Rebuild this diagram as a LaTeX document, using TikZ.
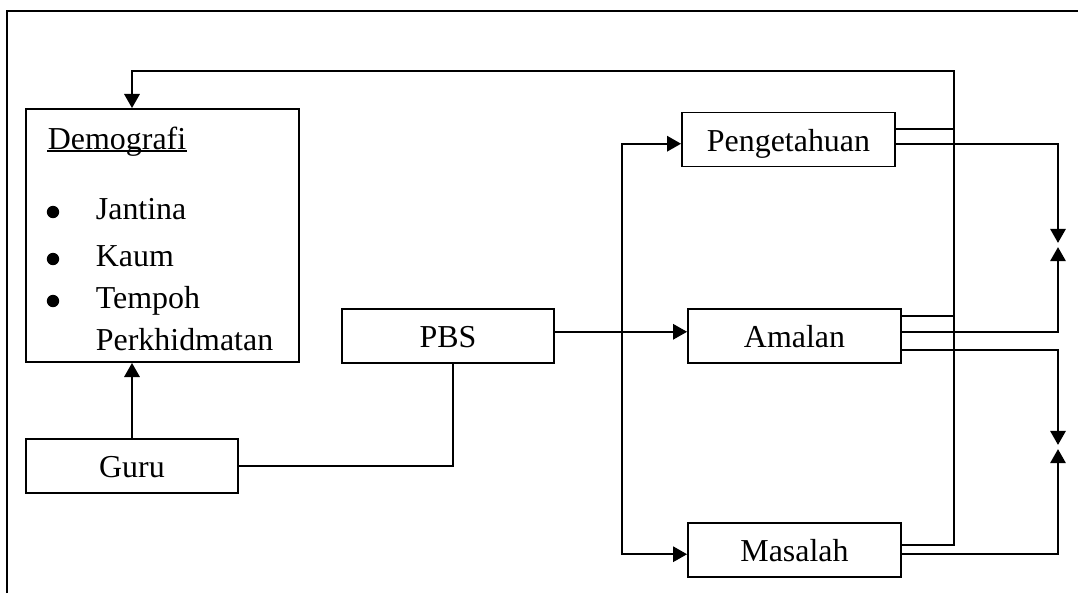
\documentclass[tikz,border=0pt]{standalone}
\usepackage{fontspec}
\setmainfont{Liberation Serif}
\usetikzlibrary{arrows.meta}

\begin{document}
\begin{tikzpicture}[x=0.025cm,y=-0.025cm,line width=1.3pt,
  box/.style={draw,rectangle,minimum width=5.3cm,minimum height=1.35cm,inner sep=0pt,
    text height=0.95cm,text depth=0.375cm,font=\fontsize{22.7}{27}\selectfont},
  txt/.style={inner sep=0pt,anchor=base west,font=\fontsize{22.7}{27}\selectfont},
  dotmark/.style={circle,fill,inner sep=0pt,minimum size=0.31cm},
  flow/.style={-{Triangle[width=11pt,length=10pt]}}]
\useasboundingbox (0,0) rectangle (1078,593);
\draw[line width=1.6pt] (7,593) -- (7,11) -- (1078,11);

\node[box,minimum width=6.825cm,minimum height=6.325cm] (demo) at (162.5,235.5) {};
\node[box] (guru) at (132,466) {Guru};
\node[box] (pbs) at (448,336) {PBS};
\node[box,minimum width=5.325cm] (peng) at (788.5,139.5) {Pengetahuan};
\node[box,minimum width=5.325cm] (amalan) at (794.5,336) {Amalan};
\node[box,minimum width=5.325cm] (masalah) at (794.5,550) {Masalah};

\node[txt] (demotitle) at (47,149) {Demografi};
\draw[line width=1pt] ([yshift=-1.5pt]demotitle.base west) -- ([yshift=-1.5pt]demotitle.base east);
\foreach \lbl/\y [count=\i] in {Jantina/219,Kaum/266,Tempoh/308}{
  \node[dotmark] (dot\i) at (53,\y-7) {};
  \node[txt] (item\i) at (95,\y) {\lbl};
}
\node[txt] (item4) at (95,350) {Perkhidmatan};

\coordinate (split) at (622,332);
\coordinate (fbtop) at (954,71);
\coordinate (fbleft) at (132,71);
\coordinate (join1) at (1058,245);
\coordinate (join2) at (1058,447);
\coordinate (pengup) at ([yshift=7.5pt]peng.east);
\coordinate (amalanup) at ([yshift=14pt]amalan.east);

\draw[flow] (guru.north) -- (guru.north |- demo.south);
\draw (guru.east) -| ([xshift=3.5pt]pbs.south);
\draw[flow] ([yshift=3pt]pbs.east) -- ([yshift=3pt]amalan.west);
\draw[flow] (split) |- ([yshift=-3pt]peng.west);
\draw[flow] (split) |- ([yshift=-3pt]masalah.west);

\draw[flow] ([yshift=3.5pt]masalah.east) -| (fbtop) -- (fbleft) -- (fbleft |- demo.north);
\draw (pengup) -- (pengup -| fbtop);
\draw (amalanup) -- (amalanup -| fbtop);

\draw[flow] ([yshift=-3pt]peng.east) -| ([yshift=1.5pt]join1);
\draw[flow] ([yshift=3pt]amalan.east) -| ([yshift=-1.5pt]join1);
\draw[flow] ([yshift=-10pt]amalan.east) -| ([yshift=1.5pt]join2);
\draw[flow] ([yshift=-3pt]masalah.east) -| ([yshift=-1.5pt]join2);

\end{tikzpicture}
\end{document}
